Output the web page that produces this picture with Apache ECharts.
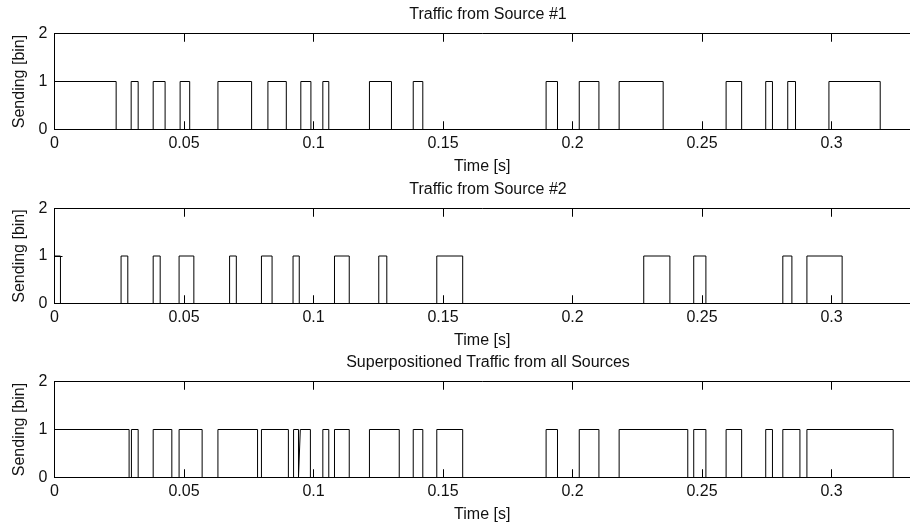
<!DOCTYPE html>
<html>
<head>
<meta charset="utf-8">
<script src="https://cdn.jsdelivr.net/npm/echarts@6/dist/echarts.min.js"></script>
<style>
  html, body { margin: 0; padding: 0; background: #fff; }
  #main { width: 910px; height: 522px; }
</style>
</head>
<body>
<div id="main"></div>
<script>
var dom = document.getElementById('main');
var chart = echarts.init(dom);

// pulse edges, seconds
var src1Start = [0, 0.0296, 0.0381, 0.0485, 0.0631, 0.0824, 0.0951, 0.1036, 0.1216, 0.1385, 0.1898, 0.2026, 0.2180, 0.2593, 0.2746, 0.2831, 0.2990];
var src1End   = [0.0238, 0.0323, 0.0427, 0.0522, 0.0761, 0.0895, 0.0990, 0.1059, 0.1301, 0.1422, 0.1942, 0.2102, 0.2350, 0.2653, 0.2772, 0.2861, 0.3188];

var src2Start = [0, 0.0257, 0.0381, 0.0481, 0.0676, 0.0799, 0.0921, 0.1081, 0.1252, 0.1476, 0.2275, 0.2468, 0.2812, 0.2905];
var src2End   = [0.0023, 0.0283, 0.0408, 0.0538, 0.0702, 0.0840, 0.0945, 0.1138, 0.1283, 0.1576, 0.2376, 0.2515, 0.2847, 0.3041];

var allStart = [0, 0.0297, 0.0381, 0.0481, 0.0631, 0.0799, 0.0923, 0.0949, 0.1036, 0.1081, 0.1216, 0.1385, 0.1476, 0.1898, 0.2026, 0.2180, 0.2468, 0.2593, 0.2746, 0.2812, 0.2905];
var allEnd   = [0.0288, 0.0323, 0.0453, 0.0570, 0.0784, 0.0903, 0.0942, 0.0988, 0.1059, 0.1138, 0.1331, 0.1422, 0.1576, 0.1942, 0.2102, 0.2445, 0.2515, 0.2653, 0.2772, 0.2878, 0.3238];

var titles = ['Traffic from Source #1', 'Traffic from Source #2', 'Superpositioned Traffic from all Sources'];
var tMax = 0.3303;
var xTicks = [0, 0.05, 0.1, 0.15, 0.2, 0.25, 0.3];

var font = 'Liberation Sans, Arial, sans-serif';
var fontSize = 16;
var ink = '#111';
var tickLen = 8;

// turn pulses into a step line
function steps(starts, ends) {
    var pts = [];
    for (var i = 0; i < starts.length; ++i) {
        pts.push([starts[i], 0], [starts[i], 1], [ends[i], 1], [ends[i], 0]);
    }
    pts.push([tMax, 0]);
    return pts;
}

var signals = [steps(src1Start, src1End), steps(src2Start, src2End), steps(allStart, allEnd)];

// outerBoundsMode none: keep the box where it is, labels may sit at the edge
var grids = [
    { left: 54.5, right: 0, top: 33.5, height: 96, outerBoundsMode: 'none' },
    { left: 54.5, right: 0, top: 208.5, height: 95, outerBoundsMode: 'none' },
    { left: 54.5, right: 0, top: 381.5, height: 96, outerBoundsMode: 'none' }
];
var titleTops = [2, 177, 350];

function crisp(v) { return Math.round(v - 0.5) + 0.5; }

// inward box ticks, top and bottom edge
function renderXTicks(params, api) {
    var t = api.value(0);
    var b = api.coord([t, 0]);
    var tp = api.coord([t, 2]);
    var x = crisp(b[0]);
    return {
        type: 'group',
        children: [
            { type: 'line', shape: { x1: x, y1: b[1], x2: x, y2: b[1] - tickLen }, style: { stroke: '#000', lineWidth: 1 } },
            { type: 'line', shape: { x1: x, y1: tp[1], x2: x, y2: tp[1] + tickLen }, style: { stroke: '#000', lineWidth: 1 } }
        ]
    };
}

var xAxes = [], yAxes = [], series = [], titleOpts = [];
grids.forEach(function (g, i) {
    titleOpts.push({
        text: titles[i],
        left: 483,
        textAlign: 'center',
        top: titleTops[i],
        textStyle: { fontFamily: font, fontSize: fontSize, fontWeight: 'normal', color: ink }
    });
    xAxes.push({
        type: 'value', gridIndex: i, position: 'bottom',
        min: 0, max: tMax, interval: 0.05,
        name: 'Time [s]', nameLocation: 'middle', nameGap: 29,
        nameTextStyle: { fontFamily: font, fontSize: fontSize, color: ink },
        axisLine: { show: true, onZero: false, lineStyle: { color: '#000', width: 1 } },
        axisTick: { show: true, inside: true, length: tickLen, lineStyle: { color: '#000', width: 1 } },
        axisLabel: { margin: 6, showMaxLabel: false, fontFamily: font, fontSize: fontSize, color: ink },
        splitLine: { show: false }
    });
    xAxes.push({
        type: 'value', gridIndex: i, position: 'top',
        min: 0, max: tMax, interval: 0.05,
        axisLine: { show: true, onZero: false, lineStyle: { color: '#000', width: 1 } },
        axisTick: { show: true, inside: true, length: tickLen, lineStyle: { color: '#000', width: 1 } },
        axisLabel: { show: true, showMaxLabel: false, color: 'rgba(0,0,0,0)' },
        splitLine: { show: false }
    });
    yAxes.push({
        type: 'value', gridIndex: i, position: 'left',
        min: 0, max: 2, interval: 1,
        name: 'Sending [bin]', nameLocation: 'middle', nameGap: 25,
        nameTextStyle: { fontFamily: font, fontSize: fontSize, color: ink },
        axisLine: { show: true, onZero: false, lineStyle: { color: '#000', width: 1 } },
        axisTick: { show: true, inside: true, length: tickLen, lineStyle: { color: '#000', width: 1 } },
        axisLabel: { margin: 7, fontFamily: font, fontSize: fontSize, color: ink },
        splitLine: { show: false }
    });
    series.push({
        type: 'line',
        xAxisIndex: 2 * i,
        yAxisIndex: i,
        data: signals[i],
        showSymbol: false,
        symbol: 'none',
        lineStyle: { color: '#000', width: 1 },
        animation: false
    });
    series.push({
        type: 'custom',
        xAxisIndex: 2 * i,
        yAxisIndex: i,
        silent: true,
        animation: false,
        data: xTicks.map(function (t) { return [t, 0]; }),
        renderItem: renderXTicks
    });
});

chart.setOption({
    backgroundColor: '#fff',
    animation: false,
    title: titleOpts,
    grid: grids,
    xAxis: xAxes,
    yAxis: yAxes,
    series: series
});
</script>
</body>
</html>
